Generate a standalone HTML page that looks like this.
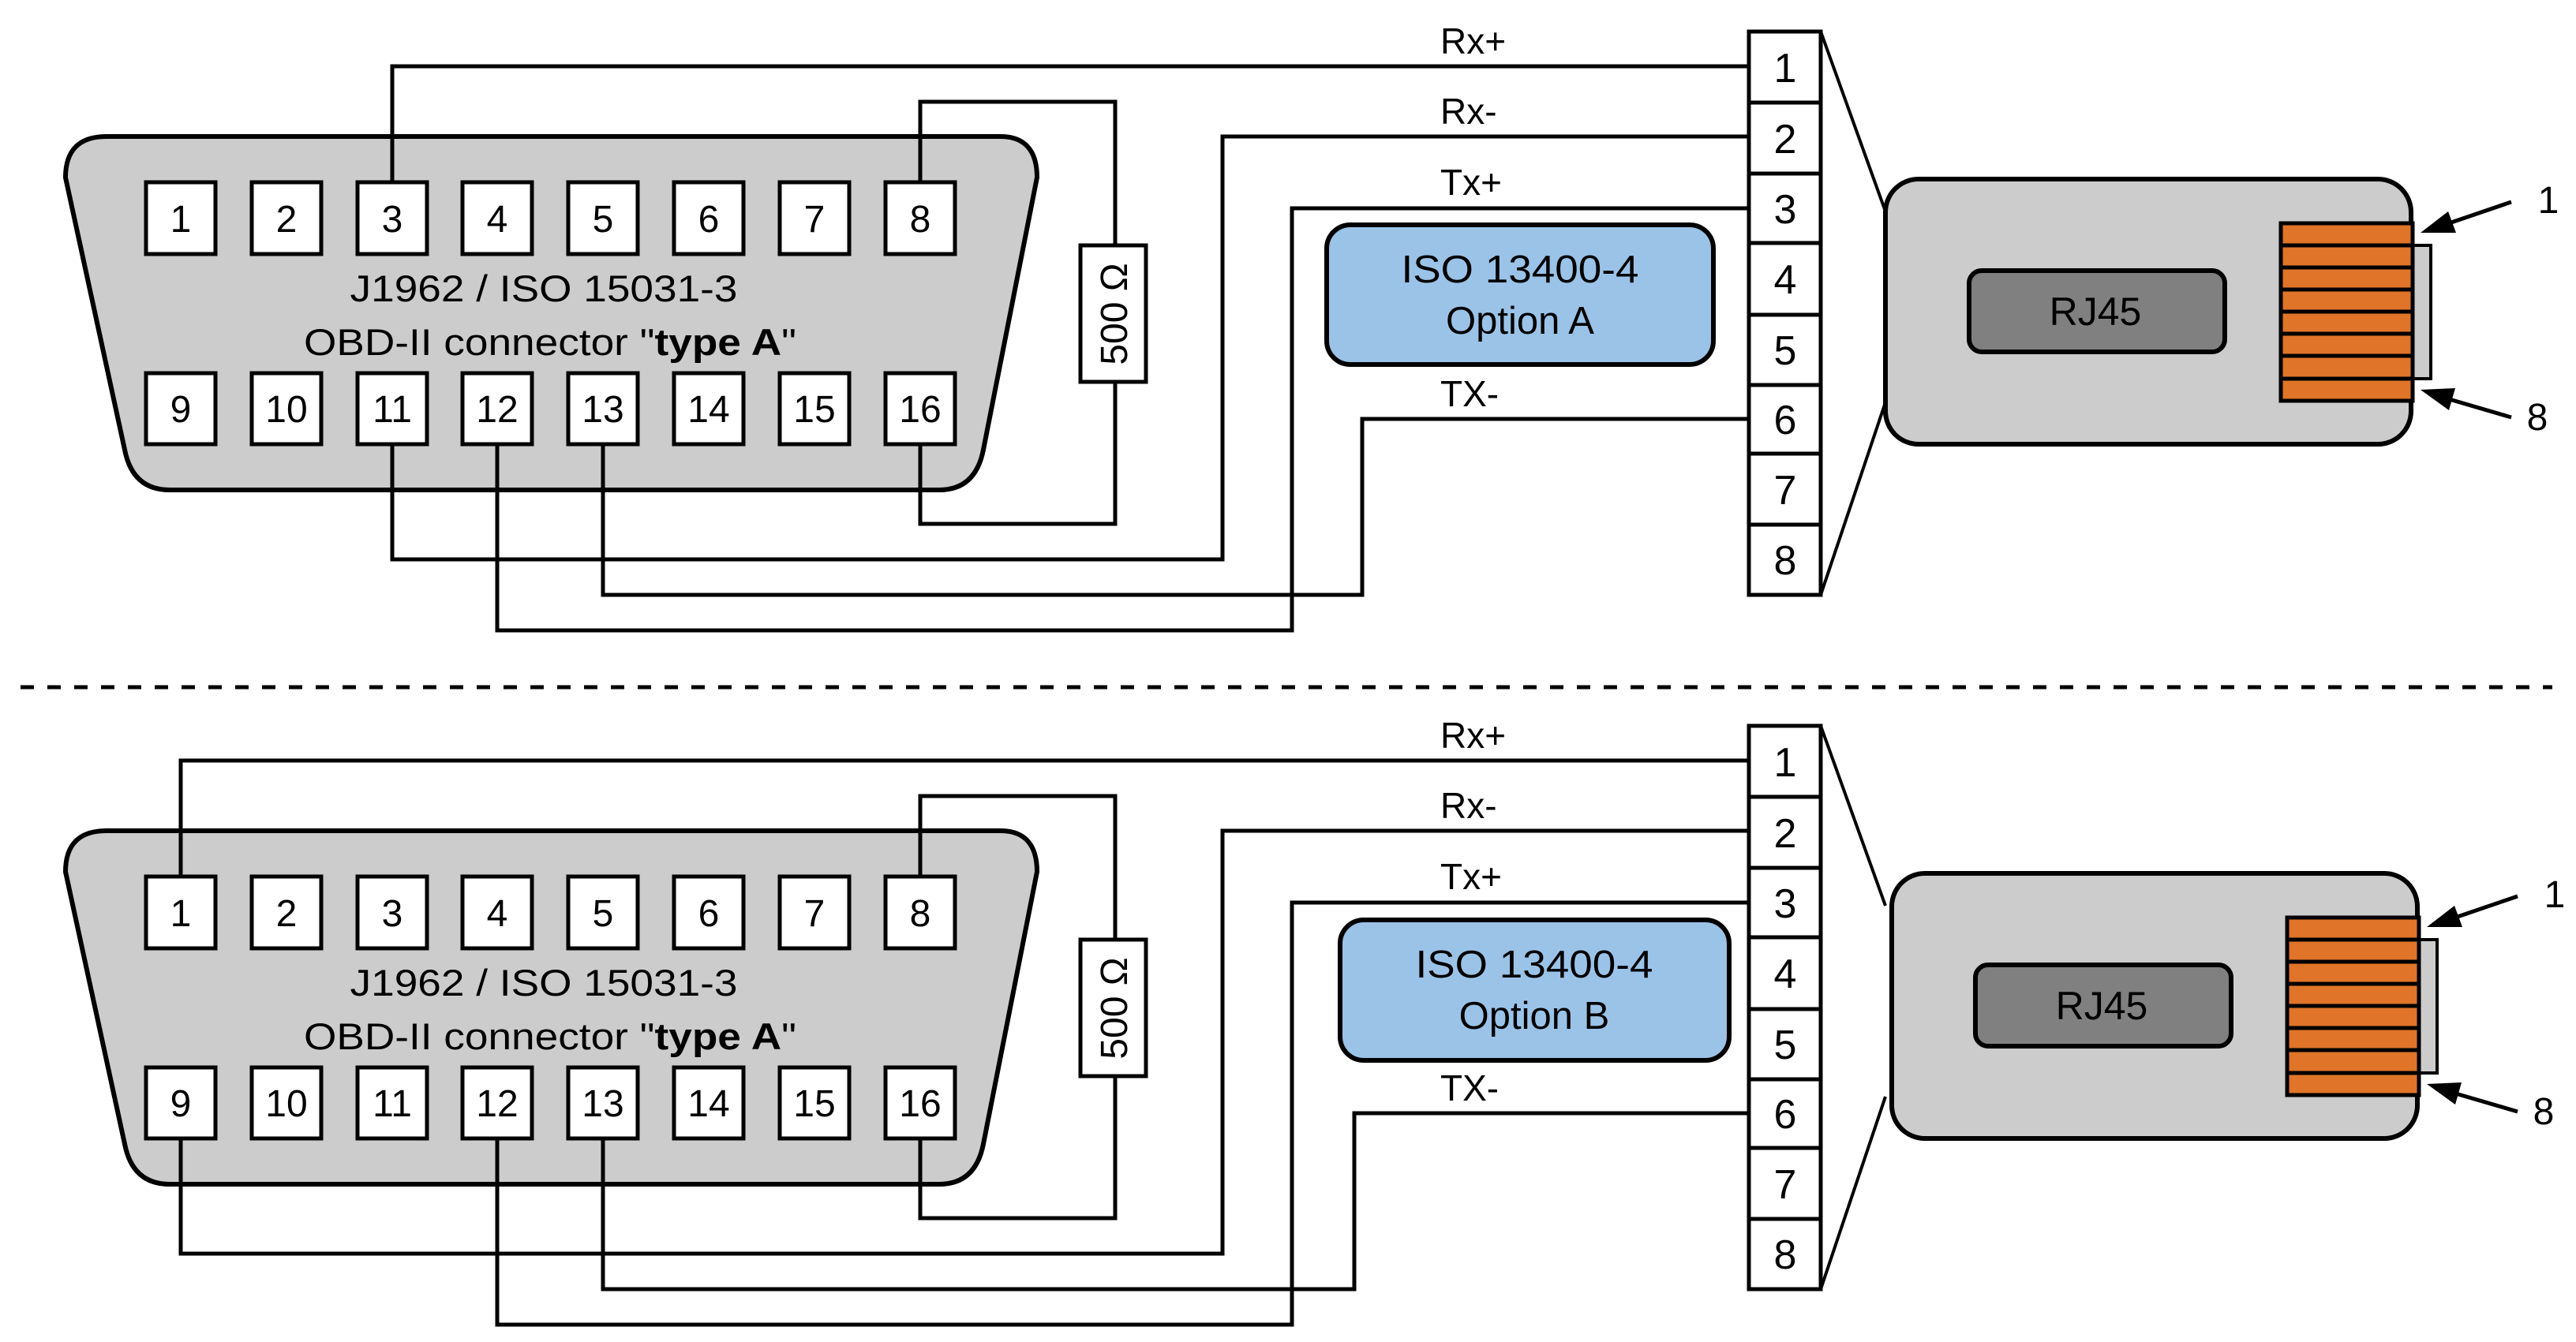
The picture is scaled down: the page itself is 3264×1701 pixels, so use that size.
<!DOCTYPE html>
<html><head><meta charset="utf-8"><style>
html,body{margin:0;padding:0;background:#fff;}
svg{display:block;}
text{font-family:"Liberation Sans",sans-serif;fill:#000;}
</style></head><body>
<svg width="3264" height="1701" viewBox="0 0 3264 1701" xmlns="http://www.w3.org/2000/svg">
<defs>
<g id="obd">
  <path d="M135,173 L1267,173 Q1314,173 1314,225 L1246,570 Q1236,621 1190,621 L215,621 Q168,621 158,570 L83,225 Q83,173 135,173 Z" fill="#cccccc" stroke="#000" stroke-width="6"/>
</g>
<g id="pins" stroke="#000" stroke-width="5" fill="#fff">
  <rect x="185" y="231" width="88" height="91"/><rect x="319" y="231" width="88" height="91"/><rect x="453" y="231" width="88" height="91"/><rect x="586" y="231" width="88" height="91"/><rect x="720" y="231" width="88" height="91"/><rect x="854" y="231" width="88" height="91"/><rect x="988" y="231" width="88" height="91"/><rect x="1122" y="231" width="88" height="91"/>
  <rect x="185" y="473" width="88" height="90"/><rect x="319" y="473" width="88" height="90"/><rect x="453" y="473" width="88" height="90"/><rect x="586" y="473" width="88" height="90"/><rect x="720" y="473" width="88" height="90"/><rect x="854" y="473" width="88" height="90"/><rect x="988" y="473" width="88" height="90"/><rect x="1122" y="473" width="88" height="90"/>
</g>
<g id="pinnums" font-size="48" text-anchor="middle">
  <text x="229" y="294">1</text><text x="363" y="294">2</text><text x="497" y="294">3</text><text x="630" y="294">4</text><text x="764" y="294">5</text><text x="898" y="294">6</text><text x="1032" y="294">7</text><text x="1166" y="294">8</text>
  <text x="229" y="535">9</text><text x="363" y="535">10</text><text x="497" y="535">11</text><text x="630" y="535">12</text><text x="764" y="535">13</text><text x="898" y="535">14</text><text x="1032" y="535">15</text><text x="1166" y="535">16</text>
  <text x="689" y="382" font-size="47" textLength="491" lengthAdjust="spacingAndGlyphs">J1962 / ISO 15031-3</text>
  <text x="697" y="450" font-size="47" textLength="624" lengthAdjust="spacingAndGlyphs">OBD-II connector "<tspan font-weight="bold">type A</tspan>"</text>
</g>
<g id="res">
  <path d="M1166,231 V129 H1413 V311 M1413,484 V664 H1166 V563" fill="none" stroke="#000" stroke-width="5"/>
  <rect x="1369" y="311" width="83" height="173" fill="#fff" stroke="#000" stroke-width="5"/>
  <text transform="translate(1428,398) rotate(-90)" font-size="48" text-anchor="middle">500 Ω</text>
</g>
<g id="term">
  <rect x="2216" y="40" width="91" height="714" fill="#fff" stroke="#000" stroke-width="5"/>
  <path d="M2216,130 H2307 M2216,220 H2307 M2216,308 H2307 M2216,399 H2307 M2216,488 H2307 M2216,575 H2307 M2216,665 H2307" stroke="#000" stroke-width="5"/>
  <g font-size="52" text-anchor="middle">
    <text x="2262" y="104">1</text><text x="2262" y="194">2</text><text x="2262" y="283">3</text><text x="2262" y="372">4</text><text x="2262" y="462">5</text><text x="2262" y="550">6</text><text x="2262" y="639">7</text><text x="2262" y="728">8</text>
  </g>
  <path d="M2307,40 L2389,268 M2307,754 L2389,510" stroke="#000" stroke-width="4" fill="none"/>
  <g font-size="46">
    <text x="1825" y="68">Rx+</text><text x="1825" y="157">Rx-</text><text x="1825" y="247">Tx+</text><text x="1825" y="515">TX-</text>
  </g>
</g>
<g id="rj">
  <rect x="2389" y="227" width="666" height="336" rx="42" ry="42" fill="#cccccc" stroke="#000" stroke-width="6"/>
  <rect x="2495" y="343" width="324" height="103" rx="16" fill="#808080" stroke="#000" stroke-width="6"/>
  <text x="2655" y="412" font-size="50" text-anchor="middle">RJ45</text>
  <rect x="3055" y="311" width="25" height="169" fill="#cccccc" stroke="#000" stroke-width="4"/>
  <rect x="2890" y="283" width="167" height="225" fill="#e07428" stroke="#000" stroke-width="5"/>
  <path d="M2890,311 H3057 M2890,339 H3057 M2890,367 H3057 M2890,395 H3057 M2890,423 H3057 M2890,451 H3057 M2890,480 H3057" stroke="#000" stroke-width="5"/>
  <path d="M3182,256 L3100,284 M3182,529 L3100,505" stroke="#000" stroke-width="5"/>
  <polygon points="3067,295 3112,295 3102,268" fill="#000"/>
  <polygon points="3067,494 3103,520 3111,492" fill="#000"/>
  <text x="3229" y="270" font-size="48" text-anchor="middle">1</text>
  <text x="3215" y="545" font-size="48" text-anchor="middle">8</text>
</g>
</defs>

<!-- TOP -->
<use href="#obd"/>
<path d="M497,231 V84 H2216 M497,563 V709 H1549 V173 H2216 M630,563 V799 H1637 V264 H2216 M764,563 V754 H1726 V531 H2216" fill="none" stroke="#000" stroke-width="5"/>
<use href="#pins"/>
<use href="#pinnums"/>
<use href="#res"/>
<rect x="1681" y="285" width="490" height="177" rx="30" fill="#9bc3e8" stroke="#000" stroke-width="6"/>
<text x="1926" y="358" font-size="49" text-anchor="middle" textLength="301" lengthAdjust="spacingAndGlyphs">ISO 13400-4</text>
<text x="1926" y="423" font-size="49" text-anchor="middle">Option A</text>
<use href="#term"/>
<use href="#rj"/>

<!-- divider -->
<line x1="26" y1="871" x2="3234" y2="871" stroke="#000" stroke-width="5" stroke-dasharray="17 17"/>

<!-- BOTTOM -->
<g transform="translate(0,880)">
<use href="#obd"/>
<path d="M229,231 V84 H2216 M229,563 V709 H1549 V173 H2216 M630,563 V799 H1637 V264 H2216 M764,563 V754 H1716 V531 H2216" fill="none" stroke="#000" stroke-width="5"/>
<use href="#pins"/>
<use href="#pinnums"/>
<use href="#res"/>
<rect x="1698" y="286" width="493" height="178" rx="30" fill="#9bc3e8" stroke="#000" stroke-width="6"/>
<text x="1944" y="359" font-size="49" text-anchor="middle" textLength="301" lengthAdjust="spacingAndGlyphs">ISO 13400-4</text>
<text x="1944" y="424" font-size="49" text-anchor="middle">Option B</text>
<use href="#term"/>
<g transform="translate(8,0)"><use href="#rj"/></g>
</g>
</svg>
</body></html>
